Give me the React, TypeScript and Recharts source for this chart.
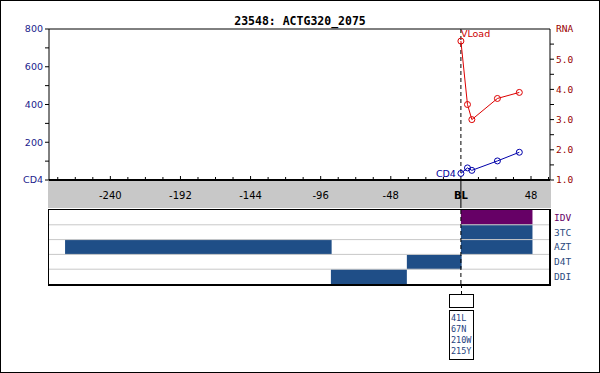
import React from 'react';
import { ComposedChart, Line, XAxis, YAxis, ReferenceLine, ReferenceArea, LabelList } from 'recharts';

// follow-up weeks relative to baseline (BL = 0)
const weeks = [0, 4.5, 7.5, 25, 40];
const cd4 = [35, 64, 51, 101, 147];
const rna = [5.6, 3.5, 3.0, 3.7, 3.9];

const xTicks = [-276, -264, -252, -240, -228, -216, -204, -192, -180, -168, -156, -144, -132, -120, -108, -96,
  -84, -72, -60, -48, -36, -24, -12, 0, 12, 24, 36, 48, 60];
const cd4Ticks = [0, 100, 200, 300, 400, 500, 600, 700, 800];
const rnaTicks = [1, 1.5, 2, 2.5, 3, 3.5, 4, 4.5, 5, 5.5, 6];

// drug history panel
const drugs = ['IDV', '3TC', 'AZT', 'D4T', 'DDI'];
const segDrug = ['IDV', '3TC', 'AZT', 'AZT', 'D4T', 'DDI'];
const segStart = [0, 0, -271, 0, -37, -89];
const segEnd = [49, 49, -88.5, 49, 0.5, -37];
const mutations = ['41L', '67N', '210W', '215Y'];

const X_DOMAIN: [number, number] = [-282, 61];
const SANS = 'DejaVu Sans, sans-serif';
const MONO = 'DejaVu Sans Mono, monospace';

function XTick(props: any) {
  const { x, y, payload } = props;
  const v = payload.value;
  const major = v % 48 === 0;
  return (
    <g>
      {v === 0
        ? <line x1={x} x2={x} y1={y} y2={y + 28} stroke="#000" />
        : <line x1={x} x2={x} y1={y} y2={y - (major ? 4 : 3)} stroke="#000" />}
      {major && (
        <text x={x} y={y + 19} textAnchor="middle" fontSize={10} fontFamily={SANS}
          fontWeight={v === 0 ? 'bold' : 'normal'} fill="#000">
          {v === 0 ? 'BL' : v}
        </text>
      )}
    </g>
  );
}

function CD4Tick(props: any) {
  const { x, y, payload } = props;
  const v = payload.value;
  const label = v === 0 ? 'CD4' : v % 200 === 0 ? String(v) : '';
  return (
    <g>
      <line x1={x - 4} x2={x} y1={y} y2={y} stroke="#000" />
      {label && (
        <text x={x - 6} y={y} dy="0.35em" textAnchor="end" fontSize={9.5} fontFamily={SANS} fill="#1a1a8c">{label}</text>
      )}
    </g>
  );
}

function RnaTick(props: any) {
  const { x, y, payload } = props;
  const v = payload.value;
  const label = v === 6 ? 'RNA' : Number.isInteger(v) ? v.toFixed(1) : '';
  return (
    <g>
      {v !== 6 && <line x1={x} x2={x + 4} y1={y} y2={y} stroke="#000" />}
      {label && (
        <text x={x + 6} y={y} dy="0.35em" textAnchor="start" fontSize={9.5} fontFamily={MONO} fill="#990000">{label}</text>
      )}
    </g>
  );
}

function DrugTick(props: any) {
  const { x, y, payload } = props;
  const name = drugs[Math.floor(payload.value)];
  return (
    <text x={x + 4} y={y} dy="0.35em" fontSize={9.5} fontFamily={MONO} fill={name === 'IDV' ? '#660066' : '#2a4a80'}>
      {name}
    </text>
  );
}

const VLoadLabel = (p: any) =>
  p.index === 0 ? (
    <text x={p.x} y={p.y - 7} dy="0.35em" fontSize={9.5} fontFamily={SANS} fill="#cc0000">VLoad</text>
  ) : null;

const CD4Label = (p: any) =>
  p.index === 0 ? (
    <text x={p.x - 5} y={p.y} dy="0.35em" textAnchor="end" fontSize={9.5} fontFamily={SANS} fill="#000099">CD4</text>
  ) : null;

export default function App() {
  const rows = weeks.map((w, i) => ({ week: w, cd4: cd4[i], rna: rna[i] }));
  const drugRows = drugs.map((d, i) => ({ drug: d, row: i + 0.5, week: 0 }));

  return (
    <div style={{ position: 'absolute', left: 0, top: 0, width: 600, height: 373, background: '#fff' }}>
      <div style={{
        position: 'absolute', left: 0, top: 14, width: 600, textAlign: 'center',
        fontFamily: MONO, fontWeight: 'bold', fontSize: 11.5, lineHeight: '14px', color: '#000'
      }}>
        23548: ACTG320_2075
      </div>

      {/* grey band behind the x axis labels */}
      <div style={{ position: 'absolute', left: 48, top: 181, width: 503, height: 27, background: '#c8c8c8' }} />

      <div style={{ position: 'absolute', left: 0, top: 0 }}>
        <ComposedChart width={600} height={208} data={rows} margin={{ top: 29, right: 0, bottom: 0, left: 0 }}>
          <XAxis type="number" dataKey="week" domain={X_DOMAIN} ticks={xTicks} interval={0} allowDataOverflow
            tickSize={0} tickMargin={0} height={28} axisLine={{ stroke: '#000', strokeWidth: 2 }} tick={XTick} />
          <YAxis yAxisId="cd4" domain={[0, 800]} ticks={cd4Ticks} interval={0} width={49} allowDataOverflow
            tickSize={0} tickMargin={0} axisLine={{ stroke: '#000' }} tick={CD4Tick} />
          <YAxis yAxisId="rna" orientation="right" domain={[1, 6]} ticks={rnaTicks} interval={0} width={50} allowDataOverflow
            tickSize={0} tickMargin={0} axisLine={{ stroke: '#000' }} tick={RnaTick} />
          <ReferenceLine yAxisId="cd4" y={800} stroke="#000" />
          <ReferenceLine yAxisId="cd4" x={0} stroke="#000" strokeDasharray="4 3" />
          <Line yAxisId="rna" dataKey="rna" stroke="#dd0000" strokeWidth={1}
            dot={{ r: 3, stroke: '#dd0000', fill: 'none', strokeWidth: 1 }} isAnimationActive={false}>
            <LabelList dataKey="rna" content={VLoadLabel} />
          </Line>
          <Line yAxisId="cd4" dataKey="cd4" stroke="#0000aa" strokeWidth={1}
            dot={{ r: 3, stroke: '#0000aa', fill: 'none', strokeWidth: 1 }} isAnimationActive={false}>
            <LabelList dataKey="cd4" content={CD4Label} />
          </Line>
        </ComposedChart>
      </div>

      <div style={{ position: 'absolute', left: 0, top: 210 }}>
        <ComposedChart width={600} height={74} data={drugRows} margin={{ top: 0, right: 0, bottom: 0, left: 49 }}>
          <XAxis type="number" dataKey="week" domain={X_DOMAIN} hide allowDataOverflow />
          <YAxis type="number" dataKey="row" orientation="right" domain={[0, 5]} reversed ticks={[0.5, 1.5, 2.5, 3.5, 4.5]}
            interval={0} width={50} tickSize={0} tickMargin={0} axisLine={false} tick={DrugTick} allowDataOverflow />
          {[1, 2, 3, 4].map((r) => (
            <ReferenceLine key={r} y={r} stroke="#c8c8c8" />
          ))}
          {segDrug.map((d, i) => {
            const row = drugs.indexOf(d);
            return (
              <ReferenceArea key={i} x1={segStart[i]} x2={segEnd[i]} y1={row} y2={row + 1}
                fill={d === 'IDV' ? '#660066' : '#1f4e87'} fillOpacity={1} stroke="none" />
            );
          })}
          <ReferenceLine x={0} stroke="#000" strokeDasharray="4 3" />
          <Line dataKey="row" stroke="none" dot={false} activeDot={false} isAnimationActive={false} />
        </ComposedChart>
      </div>

      {/* frame of the drug panel */}
      <div style={{
        position: 'absolute', left: 48, top: 209, width: 503, height: 77, boxSizing: 'border-box',
        borderStyle: 'solid', borderColor: '#000', borderWidth: '1px 2px 2px 1px'
      }} />

      {/* baseline marker and resistance mutations */}
      <div style={{ position: 'absolute', left: 461, top: 285, height: 9, borderLeft: '1px dashed #000' }} />
      <div style={{ position: 'absolute', left: 449, top: 294, width: 25, height: 14, boxSizing: 'border-box', border: '1px solid #000' }} />
      <div style={{
        position: 'absolute', left: 449, top: 310, width: 25, height: 50, boxSizing: 'border-box', border: '1px solid #000',
        paddingTop: 2, paddingLeft: 1, fontFamily: MONO, fontSize: 8.5, lineHeight: '11px', color: '#1f3f80'
      }}>
        {mutations.map((m) => (
          <div key={m}>{m}</div>
        ))}
      </div>

      <div style={{ position: 'absolute', left: 0, top: 0, width: 600, height: 373, boxSizing: 'border-box', border: '1px solid #000' }} />
    </div>
  );
}
